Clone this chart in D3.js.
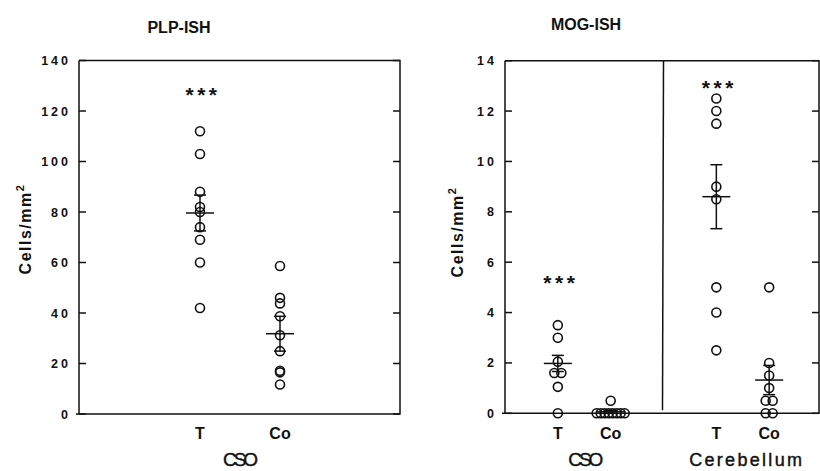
<!DOCTYPE html>
<html>
<head>
<meta charset="utf-8">
<script src="https://cdn.jsdelivr.net/npm/d3@7"></script>
<style>
  body { margin: 0; background: #fff; }
  svg { display: block; font-family: "Liberation Sans", Arial, sans-serif; }
  .line { stroke: #111; stroke-width: 1.5; fill: none; }
  .tick-lab { font-size: 12.5px; font-weight: bold; letter-spacing: 3px; fill: #111; }
  .ylab { font-size: 16px; font-weight: bold; letter-spacing: 1.5px; fill: #111; }
  .cat { font-size: 16px; font-weight: bold; fill: #111; }
  .title { font-size: 16px; font-weight: bold; fill: #111; }
  .dot { fill: none; stroke: #111; stroke-width: 1.6; }
  .star { font-size: 21px; font-weight: bold; letter-spacing: 3.5px; fill: #111; }
  .region { fill: #111; stroke: #111; stroke-width: 0.4; }
</style>
</head>
<body>
<div id="chart"></div>
<script>
// ---------- data ----------
// PLP-ISH, CSO
const plpGroups = ["T", "Co"];
const plpValues = [
  [112, 103, 88, 82, 80, 74, 69, 60, 42],
  [58.6, 46, 43.8, 38.7, 31.2, 24.9, 17.1, 16.5, 11.7]
];
const plpMean = [79.6, 31.8];
const plpSem  = [7.1, 6.9];
const plpStars = ["***", ""];
const plpStarAt = [129, null];
const plpTicks = [0, 20, 40, 60, 80, 100, 120, 140];

// MOG-ISH, CSO and Cerebellum
const mogRegions = ["CSO", "Cerebellum"];
const mogGroups = ["T", "Co"];
const mogValues = [
  [[3.5, 3.0, 2.05, 1.6, 1.6, 1.05, 0], [0.5, 0, 0, 0, 0, 0, 0, 0, 0]],
  [[12.5, 12.0, 11.5, 9.0, 8.5, 5.0, 4.0, 2.5], [5.0, 2.0, 1.5, 1.0, 0.5, 0.5, 0, 0]]
];
const mogMean = [[1.98, 0.06], [8.6, 1.32]];
const mogSem  = [[0.32, 0.05], [1.27, 0.58]];
const mogStars = [["***", ""], ["***", ""]];
const mogStarAt = [[5.45, null], [13.2, null]];
const mogTicks = [0, 2, 4, 6, 8, 10, 12, 14];

// ---------- layout ----------
const W = 820, H = 471;
const svg = d3.select("#chart").append("svg")
  .attr("width", W).attr("height", H);

const R = 4.5, TICK = 7, MEANW = 14, CAPW = 6;

// spread identical values sideways, like the original
function spread(vals){
  const counts = d3.rollup(vals, v => v.length, d => d);
  const seen = new Map();
  return vals.map(v => {
    const n = counts.get(v), k = seen.get(v) || 0;
    seen.set(v, k + 1);
    const step = n > 1 ? Math.min(7, 28 / (n - 1)) : 0;
    return { v: v, dx: (k - (n - 1) / 2) * step };
  });
}

function drawGroup(g, x, y, vals, mean, sem, star, starAt){
  g.selectAll(null).data(spread(vals)).enter().append("circle")
    .attr("class", "dot")
    .attr("cx", d => x + d.dx)
    .attr("cy", d => y(d.v))
    .attr("r", R);
  // mean +- sem
  g.append("line").attr("class", "line")
    .attr("x1", x).attr("x2", x)
    .attr("y1", y(mean - sem)).attr("y2", y(mean + sem));
  [mean - sem, mean + sem].forEach(v => {
    g.append("line").attr("class", "line")
      .attr("x1", x - CAPW).attr("x2", x + CAPW)
      .attr("y1", y(v)).attr("y2", y(v));
  });
  g.append("line").attr("class", "line")
    .attr("x1", x - MEANW).attr("x2", x + MEANW)
    .attr("y1", y(mean)).attr("y2", y(mean));
  if (star) {
    g.append("text").attr("class", "star")
      .attr("x", x + 3).attr("y", y(starAt) + 14)
      .attr("text-anchor", "middle")
      .text(star);
  }
}

function drawFrame(g, x0, x1, y, ticks){
  g.append("path").attr("class", "line")
    .attr("d", `M${x0},${y.range()[1]}H${x1}V${y.range()[0]}H${x0 - 3}M${x0},${y.range()[0]}V${y.range()[1]}`);
  ticks.forEach(t => {
    g.append("line").attr("class", "line")
      .attr("x1", x0).attr("x2", x0 + TICK).attr("y1", y(t)).attr("y2", y(t));
    g.append("line").attr("class", "line")
      .attr("x1", x1).attr("x2", x1 - TICK).attr("y1", y(t)).attr("y2", y(t));
  });
  g.selectAll(null).data(ticks).enter().append("text")
    .attr("class", "tick-lab")
    .attr("x", x0 - 8)
    .attr("y", d => y(d) + 4.5)
    .attr("text-anchor", "end")
    .text(d => d);
}

function yLabel(g, x, yc){
  const t = g.append("text").attr("class", "ylab")
    .attr("transform", `translate(${x},${yc}) rotate(-90)`)
    .attr("text-anchor", "middle");
  t.append("tspan").text("Cells/mm");
  t.append("tspan").attr("font-size", "11px").attr("dy", "-7").text("2");
}

// ---------- PLP panel ----------
const pL = 79, pR = 400;
const yP = d3.scaleLinear().domain([0, 140]).range([414, 60.5]);
const xP = d3.scalePoint().domain(plpGroups).range([200, 280]);
const gP = svg.append("g");
drawFrame(gP, pL, pR, yP, plpTicks);
plpGroups.forEach((grp, i) => {
  drawGroup(gP, xP(grp), yP, plpValues[i], plpMean[i], plpSem[i], plpStars[i], plpStarAt[i]);
  gP.append("text").attr("class", "cat")
    .attr("x", xP(grp)).attr("y", 439).attr("text-anchor", "middle").text(grp);
});
gP.append("text").attr("class", "region").attr("x", 239).attr("y", 466)
  .attr("text-anchor", "middle")
  .style("font-size", "19px").style("letter-spacing", "-3px")
  .text("CSO");
gP.append("text").attr("class", "title")
  .attr("x", 179).attr("y", 33).attr("text-anchor", "middle").text("PLP-ISH");
yLabel(gP, 31, 229);

// ---------- MOG panel ----------
const mL = 505, mR = 819;
const yM = d3.scaleLinear().domain([0, 14]).range([413.3, 60.7]);
const xRegion = d3.scaleBand().domain(mogRegions).range([mL, mR + 3]);
const gM = svg.append("g");
drawFrame(gM, mL, mR, yM, mogTicks);
gM.append("line").attr("class", "line")
  .attr("x1", xRegion("Cerebellum")).attr("x2", xRegion("Cerebellum") - 1)
  .attr("y1", yM.range()[1]).attr("y2", yM.range()[0] - 3);
mogRegions.forEach((reg, r) => {
  const x0 = xRegion(reg);
  const xi = d3.scalePoint().domain(mogGroups).range([x0, x0 + xRegion.bandwidth()]).padding(1);
  mogGroups.forEach((grp, i) => {
    drawGroup(gM, xi(grp), yM, mogValues[r][i], mogMean[r][i], mogSem[r][i], mogStars[r][i], mogStarAt[r][i]);
    gM.append("text").attr("class", "cat")
      .attr("x", xi(grp)).attr("y", 439).attr("text-anchor", "middle").text(grp);
  });
  const isCso = reg === "CSO";
  gM.append("text").attr("class", "region")
    .attr("x", x0 + xRegion.bandwidth() / 2 + (isCso ? 0 : 4)).attr("y", 466)
    .attr("text-anchor", "middle")
    .style("font-size", isCso ? "19px" : "18px")
    .style("letter-spacing", isCso ? "-3px" : "2.3px")
    .text(reg);
});
gM.append("text").attr("class", "title")
  .attr("x", 586).attr("y", 30).attr("text-anchor", "middle").text("MOG-ISH");
yLabel(gM, 463, 232);
</script>
</body>
</html>
